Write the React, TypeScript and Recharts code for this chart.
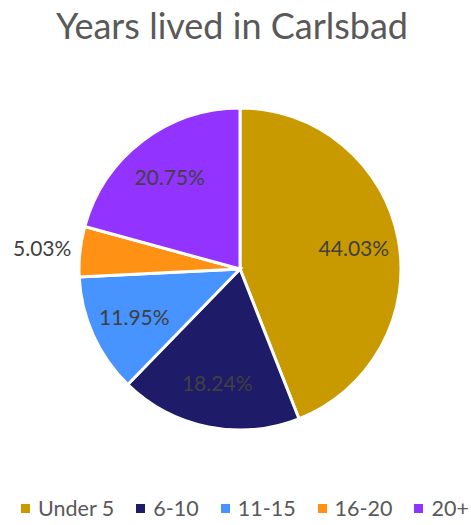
import React from 'react'
import { PieChart, Pie, Cell, Legend } from 'recharts'

const categories = ['Under 5', '6-10', '11-15', '16-20', '20+']
const values = [44.03, 18.24, 11.95, 5.03, 20.75]
const colors = ['#C99A00', '#1E1B68', '#4793FF', '#FF9214', '#9233FF']

const data = categories.map((name, i) => ({ name, value: values[i] }))

const RAD = Math.PI / 180
const FONT = 'Lato, sans-serif'

function renderLabel(props: any) {
  const { cx, cy, midAngle, outerRadius, value } = props
  const outside = value < 8
  const r = outside ? outerRadius + 38 : outerRadius * 0.72
  const x = cx + r * Math.cos(-midAngle * RAD)
  const y = cy + r * Math.sin(-midAngle * RAD)
  return (
    <text
      x={x}
      y={y}
      textAnchor="middle"
      dominantBaseline="central"
      fill="#404040"
      fontSize={21}
      fontFamily={FONT}
    >
      {value.toFixed(2)}%
    </text>
  )
}

function LegendContent() {
  return (
    <div style={{ display: 'flex', justifyContent: 'center', alignItems: 'center', fontFamily: FONT, fontSize: 21.5, color: '#595959', whiteSpace: 'nowrap' }}>
      {categories.map((c, i) => (
        <div key={c} style={{ display: 'flex', alignItems: 'center', marginLeft: i === 0 ? 0 : 22 }}>
          <span style={{ width: 9, height: 9, background: colors[i], display: 'inline-block', marginRight: 8 }} />
          <span>{c}</span>
        </div>
      ))}
    </div>
  )
}

export default function App() {
  return (
    <div style={{ position: 'absolute', left: 0, top: 0, width: 471, height: 525, background: '#fff' }}>
      <div
        style={{
          position: 'absolute',
          top: 0,
          left: 0,
          width: 464,
          textAlign: 'center',
          fontFamily: FONT,
          fontSize: 36,
          lineHeight: '50px',
          color: '#595959',
        }}
      >
        Years lived in Carlsbad
      </div>
      <PieChart width={471} height={525} margin={{ top: 0, right: 0, bottom: 0, left: 0 }}>
        <Pie
          data={data}
          dataKey="value"
          nameKey="name"
          cx={240}
          cy={269}
          outerRadius={161}
          startAngle={90}
          endAngle={-270}
          stroke="#fff"
          strokeWidth={3}
          label={renderLabel}
          labelLine={false}
          isAnimationActive={false}
        >
          {data.map((d, i) => (
            <Cell key={d.name} fill={colors[i]} />
          ))}
        </Pie>
        <Legend
          verticalAlign="bottom"
          content={<LegendContent />}
          wrapperStyle={{ bottom: 4, left: 19, width: 452 }}
        />
      </PieChart>
    </div>
  )
}
